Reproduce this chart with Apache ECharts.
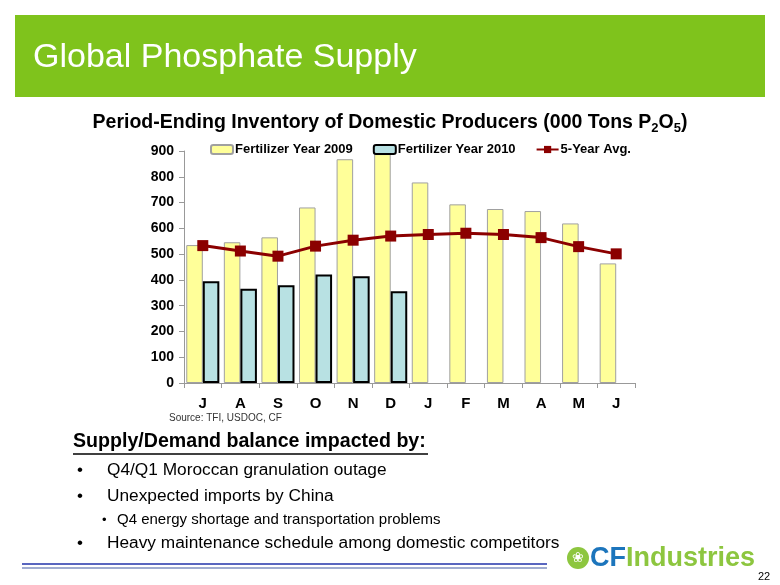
<!DOCTYPE html>
<html>
<head>
<meta charset="utf-8">
<script src="https://cdn.jsdelivr.net/npm/echarts@6/dist/echarts.min.js"></script>
<style>html,body{margin:0;padding:0;background:#fff;}#c{width:780px;height:585px;}</style>
</head>
<body>
<div id="c"></div>
<script>
var categories = ['J','A','S','O','N','D','J','F','M','A','M','J'];
var fy2009 = [535, 546, 565, 681, 868, 888, 778, 693, 675, 667, 619, 464];
var fy2010 = [395, 366, 379, 421, 414, 356];
var avg5 = [533, 512, 492, 531, 554, 570, 576, 581, 576, 564, 529, 501];
var yTicks = [0, 900, 100];
var seriesNames = ['Fertilizer Year 2009', 'Fertilizer Year 2010', '5-Year Avg.'];

var chart = echarts.init(document.getElementById('c'));
var FF = 'Arial, "Liberation Sans", sans-serif';
chart.setOption({
  backgroundColor: '#fff',
  animation: false,
  title: {
    text: '{t|Period-Ending Inventory of Domestic Producers (000 Tons P}{s|2}{t|O}{s|5}{t|)}',
    left: 385, textAlign: 'center', top: 106,
    textStyle: {
      rich: {
        t: {fontFamily: FF, fontWeight: 'bold', fontSize: 19.5, color: '#000'},
        s: {fontFamily: FF, fontWeight: 'bold', fontSize: 13, color: '#000', padding: [11, 0, 0, 0]}
      }
    }
  },
  legend: {
    top: 138, left: 205,
    itemWidth: 22, itemHeight: 9, itemGap: 20,
    textStyle: {fontFamily: FF, fontWeight: 'bold', fontSize: 13, color: '#000', padding: [0, 0, 0, -3]},
    data: seriesNames
  },
  grid: {left: 184, right: 145, top: 151, bottom: 202, containLabel: false},
  xAxis: {
    type: 'category', data: categories,
    axisLine: {lineStyle: {color: '#999', width: 1}},
    axisTick: {show: true, length: 5, lineStyle: {color: '#999'}},
    axisLabel: {fontFamily: FF, fontWeight: 'bold', fontSize: 15, color: '#000', margin: 13}
  },
  yAxis: {
    type: 'value', min: yTicks[0], max: yTicks[1], interval: yTicks[2],
    axisLine: {show: true, lineStyle: {color: '#999', width: 1}},
    axisTick: {show: true, length: 5, lineStyle: {color: '#999'}},
    splitLine: {show: false},
    axisLabel: {fontFamily: FF, fontWeight: 'bold', fontSize: 14, color: '#000', margin: 10}
  },
  series: [
    {name: seriesNames[0], type: 'bar', data: fy2009, barGap: '0%', barCategoryGap: '12%',
     itemStyle: {color: '#FFFF99', borderColor: '#A0A0A0', borderWidth: 1}},
    {name: seriesNames[1], type: 'bar', data: fy2010,
     itemStyle: {color: '#B8E1E3', borderColor: '#000', borderWidth: 2}},
    {name: seriesNames[2], type: 'line', data: avg5, symbol: 'rect', symbolSize: 11,
     lineStyle: {color: '#8B0000', width: 3}, itemStyle: {color: '#8B0000'}, z: 5}
  ],
  graphic: [
    {type: 'rect', shape: {x: 15, y: 15, width: 750, height: 82}, style: {fill: '#7FC31C'}, z: -1},
    {type: 'text', x: 33, y: 58, style: {text: 'Global Phosphate Supply', fill: '#fff', font: '34px ' + FF, verticalAlign: 'middle'}},
    {type: 'text', x: 169, y: 418, style: {text: 'Source: TFI, USDOC, CF', fill: '#333', font: '10px ' + FF, verticalAlign: 'middle'}},
    {type: 'text', x: 73, y: 442, style: {text: 'Supply/Demand balance impacted by:', fill: '#000', font: 'bold 19.6px ' + FF, verticalAlign: 'middle'}},
    {type: 'line', shape: {x1: 73, y1: 454, x2: 428, y2: 454}, style: {stroke: '#000', lineWidth: 1.5}},
    {type: 'text', x: 77, y: 470, style: {text: '\u2022', fill: '#000', font: '17px ' + FF, verticalAlign: 'middle'}},
    {type: 'text', x: 107, y: 470, style: {text: 'Q4/Q1 Moroccan granulation outage', fill: '#000', font: '17.3px ' + FF, verticalAlign: 'middle'}},
    {type: 'text', x: 77, y: 496, style: {text: '\u2022', fill: '#000', font: '17px ' + FF, verticalAlign: 'middle'}},
    {type: 'text', x: 107, y: 496, style: {text: 'Unexpected imports by China', fill: '#000', font: '17.3px ' + FF, verticalAlign: 'middle'}},
    {type: 'text', x: 102, y: 520, style: {text: '\u2022', fill: '#000', font: '13px ' + FF, verticalAlign: 'middle'}},
    {type: 'text', x: 117, y: 520, style: {text: 'Q4 energy shortage and transportation problems', fill: '#000', font: '15px ' + FF, verticalAlign: 'middle'}},
    {type: 'text', x: 77, y: 543, style: {text: '\u2022', fill: '#000', font: '17px ' + FF, verticalAlign: 'middle'}},
    {type: 'text', x: 107, y: 543, style: {text: 'Heavy maintenance schedule among domestic competitors', fill: '#000', font: '17.3px ' + FF, verticalAlign: 'middle'}},
    {type: 'line', shape: {x1: 22, y1: 564, x2: 547, y2: 564}, style: {stroke: '#2233AA', lineWidth: 1.5}},
    {type: 'line', shape: {x1: 22, y1: 568, x2: 547, y2: 568}, style: {stroke: '#8090C0', lineWidth: 1.5}},
    {type: 'circle', shape: {cx: 578, cy: 558, r: 11}, style: {fill: '#8DC63F'}},
    {type: 'text', x: 578, y: 558, style: {text: '\u2740', fill: '#fff', font: '14px sans-serif', align: 'center', verticalAlign: 'middle'}},
    {type: 'text', x: 590, y: 559, style: {
      text: '{cf|CF}{ind|Industries}', verticalAlign: 'middle',
      rich: {
        cf: {fontFamily: FF, fontWeight: 'bold', fontSize: 27, fill: '#1C75BC'},
        ind: {fontFamily: FF, fontWeight: 'bold', fontSize: 27, fill: '#8DC63F'}
      }}},
    {type: 'text', x: 764, y: 577, style: {text: '22', fill: '#000', font: '11px ' + FF, align: 'center', verticalAlign: 'middle'}}
  ]
});
</script>
</body>
</html>
